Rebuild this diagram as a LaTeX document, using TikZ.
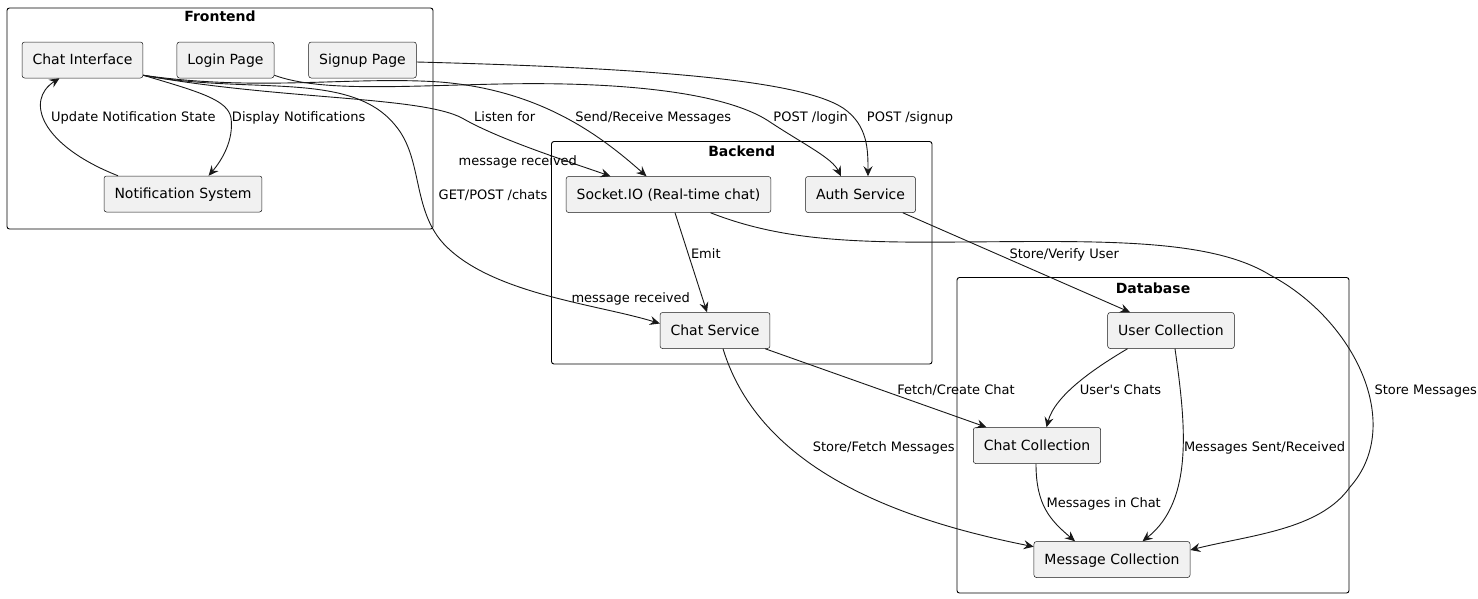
\documentclass[tikz,border=0pt]{standalone}
\usepackage{fontspec}
\setmainfont{DejaVu Sans}
\usetikzlibrary{arrows.meta}
\definecolor{boxfill}{HTML}{F1F1F1}
\definecolor{inkgray}{HTML}{181818}

\begin{document}
\begin{tikzpicture}[x=1pt, y=-1pt,
  comp/.style={draw=inkgray, fill=boxfill, rounded corners=2.5pt, line width=0.5pt,
    minimum height=36pt, inner xsep=10.5pt, text height=12pt, text depth=3pt,
    font=\fontsize{14}{16}\selectfont},
  cluster/.style={draw=black, rounded corners=2.5pt, line width=0.9pt},
  title/.style={anchor=base, font=\bfseries\fontsize{14}{16}\selectfont},
  lbl/.style={anchor=base, inner sep=0pt, font=\fontsize{13}{15}\selectfont},
  flow/.style={draw=inkgray, line width=0.9pt, -{Stealth[length=10pt, width=9pt, inset=3.5pt]}}]

  % Background
  \fill[white] (0, 0) rectangle (1478, 598);
  \useasboundingbox (0, 0) rectangle (1478, 598);

  % Clusters
  \draw[cluster] (7, 8) rectangle (433, 229);
  \node[title] (frontend) at (220, 21.7) {Frontend};
  \draw[cluster] (551.5, 141.5) rectangle (932, 364);
  \node[title] (backend) at (741.7, 156) {Backend};
  \draw[cluster] (957, 277.5) rectangle (1349, 593);
  \node[title] (database) at (1153, 293.3) {Database};

  % Frontend components
  \node[comp] (chatui) at (82.5, 60) {Chat Interface};
  \node[comp] (login) at (225.5, 60) {Login Page};
  \node[comp] (signup) at (362.5, 60) {Signup Page};
  \node[comp] (notif) at (183, 194) {Notification System};

  % Backend components
  \node[comp] (socket) at (668.5, 194.5) {Socket.IO (Real-time chat)};
  \node[comp] (auth) at (860.5, 194.5) {Auth Service};
  \node[comp] (chatsvc) at (715, 330.5) {Chat Service};

  % Database collections
  \node[comp] (usercol) at (1171, 330.5) {User Collection};
  \node[comp] (chatcol) at (1037, 445.5) {Chat Collection};
  \node[comp] (msgcol) at (1112, 559.5) {Message Collection};

  % Frontend flows
  \draw[flow] ([xshift=-65pt]notif.north) .. controls (40, 145) and (25, 100) .. ([xshift=-23pt]chatui.south);
  \draw[flow] ([yshift=3pt]chatui.south east) .. controls (200, 92) and (228, 100) .. (231, 118)
    .. controls (234, 140) and (222, 160) .. ([xshift=25.6pt]notif.north);
  \draw[flow] ([yshift=3pt]chatui.south east) .. controls (280, 100) and (420, 96) .. (462, 118)
    .. controls (500, 140) and (570, 162) .. ([xshift=-58pt]socket.north);
  \draw[flow] ([yshift=3pt]chatui.south east) .. controls (260, 92) and (350, 76) .. (440, 82)
    .. controls (540, 90) and (600, 135) .. ([xshift=-22pt]socket.north);
  \draw[flow] ([yshift=3pt]chatui.south east) .. controls (250, 95) and (350, 70) .. (395, 125)
    .. controls (425, 160) and (410, 215) .. (450, 250)
    .. controls (500, 295) and (600, 305) .. ([yshift=7pt]chatsvc.west);
  \draw[flow] ([yshift=3pt]login.south east) .. controls (320, 92) and (400, 86) .. (500, 84)
    .. controls (650, 81) and (735, 98) .. (770, 122)
    .. controls (805, 145) and (832, 158) .. ([xshift=-19.5pt]auth.north);
  \draw[flow] ([yshift=-2pt]signup.east) .. controls (650, 68) and (800, 80) .. (843, 108)
    .. controls (868, 125) and (868, 150) .. ([xshift=7.5pt]auth.north);

  % Backend flows
  \draw[flow] ([xshift=6.5pt]socket.south) -- ([xshift=-8pt]chatsvc.north);
  \draw[flow] ([xshift=42pt]socket.south) .. controls (780, 240) and (850, 243) .. (960, 242)
    .. controls (1100, 241) and (1210, 238) .. (1270, 275)
    .. controls (1355, 320) and (1405, 425) .. (1350, 487)
    .. controls (1320, 530) and (1250, 535) .. ([yshift=9.5pt]msgcol.east);
  \draw[flow] ([xshift=-13pt]auth.south east) -- ([xshift=-41pt]usercol.north);
  \draw[flow] ([xshift=-5pt]chatsvc.south east) -- ([xshift=-50.5pt]chatcol.north);
  \draw[flow] ([xshift=8pt]chatsvc.south) .. controls (760, 470) and (900, 520) .. ([yshift=12.8pt]msgcol.west);

  % Database flows
  \draw[flow] ([xshift=-43.5pt]usercol.south) .. controls (1095, 368) and (1055, 395) .. ([xshift=9.5pt]chatcol.north);
  \draw[flow] ([xshift=4pt]usercol.south) .. controls (1185, 420) and (1195, 500) .. ([xshift=30.5pt]msgcol.north);
  \draw[flow] ([xshift=-1pt]chatcol.south) .. controls (1036, 505) and (1050, 520) .. ([xshift=-37pt]msgcol.north);

  % Flow labels
  \node[lbl] (lupdate) at (133.4, 121.4) {Update Notification State};
  \node[lbl] (ldisplay) at (298.7, 121.4) {Display Notifications};
  \node[lbl] (llisten) at (504.7, 121.4) {Listen for};
  \node[lbl] (lmsgup) at (517.8, 165.7) {message received};
  \node[lbl] (lchats) at (493, 199) {GET/POST /chats};
  \node[lbl] (lsend) at (653.2, 121.4) {Send/Receive Messages};
  \node[lbl] (llogin) at (810.7, 121.4) {POST /login};
  \node[lbl] (lsignup) at (910, 121.4) {POST /signup};
  \node[lbl] (lemit) at (705.8, 258) {Emit};
  \node[lbl] (lmsglow) at (630.7, 302.4) {message received};
  \node[lbl] (lverify) at (1064.2, 258) {Store/Verify User};
  \node[lbl] (lfetch) at (956, 394) {Fetch/Create Chat};
  \node[lbl] (luserchats) at (1120.5, 394) {User\textquotesingle s Chats};
  \node[lbl] (lstore) at (1425.7, 394) {Store Messages};
  \node[lbl] (lstorefetch) at (883.7, 451.4) {Store/Fetch Messages};
  \node[lbl] (lsent) at (1264.5, 451.4) {Messages Sent/Received};
  \node[lbl] (linchat) at (1103.7, 507.4) {Messages in Chat};

\end{tikzpicture}
\end{document}
